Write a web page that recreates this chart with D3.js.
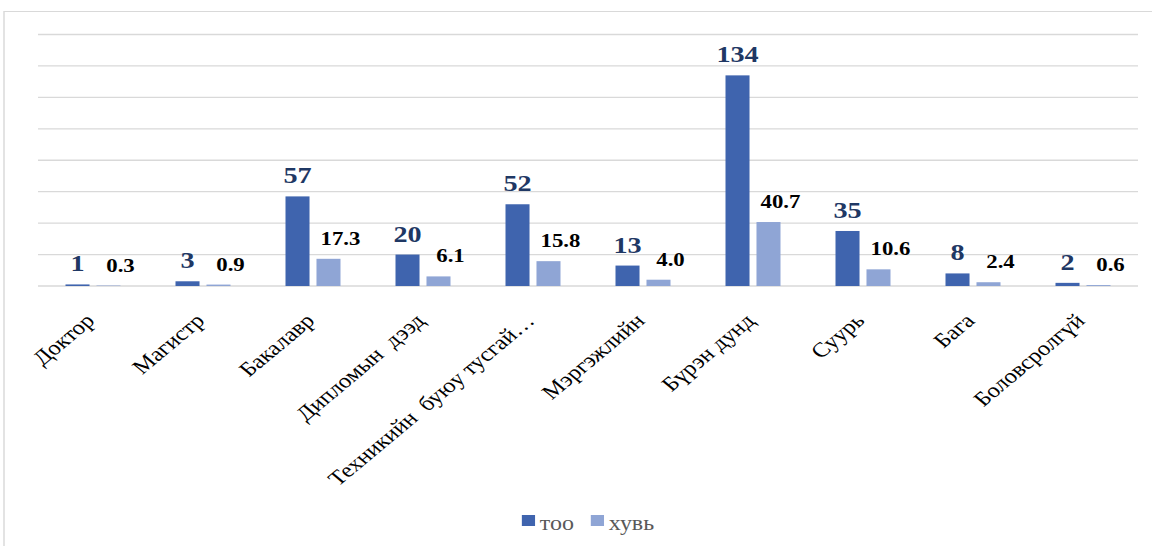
<!DOCTYPE html>
<html>
<head>
<meta charset="utf-8">
<script src="https://cdn.jsdelivr.net/npm/d3@7"></script>
<style>
  body { margin: 0; background: #fff; }
  svg { display: block; }
  text { font-family: 'Liberation Serif', 'Times New Roman', serif; }
  .cat { white-space: pre; }
</style>
</head>
<body>
<svg id="chart"></svg>
<script>
const categories = ['Доктор', 'Магистр', 'Бакалавр', 'Дипломын  дээд', 'Техникийн  буюу тусгай…',
  'Мэргэжлийн', 'Бүрэн дунд', 'Суурь', 'Бага', 'Боловсролгүй']
const tooValues = [1, 3, 57, 20, 52, 13, 134, 35, 8, 2]
const pctValues = [0.3, 0.9, 17.3, 6.1, 15.8, 4.0, 40.7, 10.6, 2.4, 0.6]
const seriesNames = ['тоо', 'хувь']
const yTicks = [0, 20, 40, 60, 80, 100, 120, 140, 160]

// the reference picture is stretched sideways, so draw in a narrower box and let the svg widen it
const outerW = 1152, height = 546
const stretch = 1.2
const width = outerW / stretch

const colors = { 'тоо': '#3f64ae', 'хувь': '#8fa5d5' }

const svg = d3.select('#chart')
  .attr('width', outerW)
  .attr('height', height)
  .attr('viewBox', `0 0 ${width} ${height}`)
  .attr('preserveAspectRatio', 'none')

const plot = { left: 38 / stretch, right: 1138 / stretch, top: 34.5, bottom: 286 }

// chart frame
svg.append('path')
  .attr('d', `M${4 / stretch},${height + 2} V11.5 H${width + 2}`)
  .attr('fill', 'none')
  .attr('stroke', '#d9d9d9')
  .attr('stroke-width', 1.2)

const y = d3.scaleLinear().domain([0, 160]).range([plot.bottom, plot.top])

const x0 = d3.scaleBand()
  .domain(categories)
  .range([plot.left, plot.right])
  .paddingInner(0.5)
  .paddingOuter(0.25)

const x1 = d3.scaleBand()
  .domain(seriesNames)
  .range([0, x0.bandwidth()])
  .paddingInner(0.225)

// gridlines
svg.append('g')
  .selectAll('line')
  .data(yTicks)
  .join('line')
  .attr('x1', plot.left)
  .attr('x2', plot.right)
  .attr('y1', d => y(d))
  .attr('y2', d => y(d))
  .attr('stroke', '#d9d9d9')
  .attr('stroke-width', 1.3)

const rows = categories.map((c, i) => ({ cat: c, 'тоо': tooValues[i], 'хувь': pctValues[i] }))

const groups = svg.append('g')
  .selectAll('g')
  .data(rows)
  .join('g')
  .attr('transform', d => `translate(${x0(d.cat)},0)`)

groups.selectAll('rect')
  .data(d => seriesNames.map(s => ({ s, v: d[s] })))
  .join('rect')
  .attr('x', d => x1(d.s))
  .attr('width', x1.bandwidth())
  .attr('y', d => y(d.v))
  .attr('height', d => y(0) - y(d.v))
  .attr('fill', d => colors[d.s])

// data labels
groups.append('text')
  .attr('x', x1('тоо') + x1.bandwidth() / 2)
  .attr('y', d => y(d['тоо']) - 13)
  .attr('text-anchor', 'middle')
  .attr('font-weight', 'bold')
  .attr('font-size', 23.5)
  .attr('fill', '#1f3864')
  .text(d => d['тоо'])

groups.append('text')
  .attr('x', x1('хувь') + x1.bandwidth() / 2 + 10)
  .attr('y', d => y(d['хувь']) - 14)
  .attr('text-anchor', 'middle')
  .attr('font-weight', 'bold')
  .attr('font-size', 19)
  .attr('fill', '#000')
  .text(d => d3.format('.1f')(d['хувь']))

// category labels, rotated
svg.append('g')
  .selectAll('text')
  .data(categories)
  .join('text')
  .attr('class', 'cat')
  .attr('transform', d => `translate(${x0(d) + x0.bandwidth() / 2 + 2.5},322) rotate(-45)`)
  .attr('text-anchor', 'end')
  .attr('font-size', 20.5)
  .attr('fill', '#000')
  .text(d => d)

// legend, centred under the plot
const legend = svg.append('g')
const items = legend.selectAll('g')
  .data(seriesNames)
  .join('g')

items.append('rect')
  .attr('width', 11)
  .attr('height', 11)
  .attr('y', 515)
  .attr('fill', d => colors[d])

items.append('text')
  .attr('x', 15)
  .attr('y', 530)
  .attr('font-size', 20)
  .attr('fill', '#595959')
  .text(d => d)

let offset = 0
const positions = []
items.each(function () {
  positions.push(offset)
  offset += 15 + this.querySelector('text').getComputedTextLength() + 14
})
const legendW = offset - 14
const legendX = (plot.left + plot.right) / 2 - legendW / 2
items.attr('transform', (d, i) => `translate(${legendX + positions[i]},0)`)
</script>
</body>
</html>
